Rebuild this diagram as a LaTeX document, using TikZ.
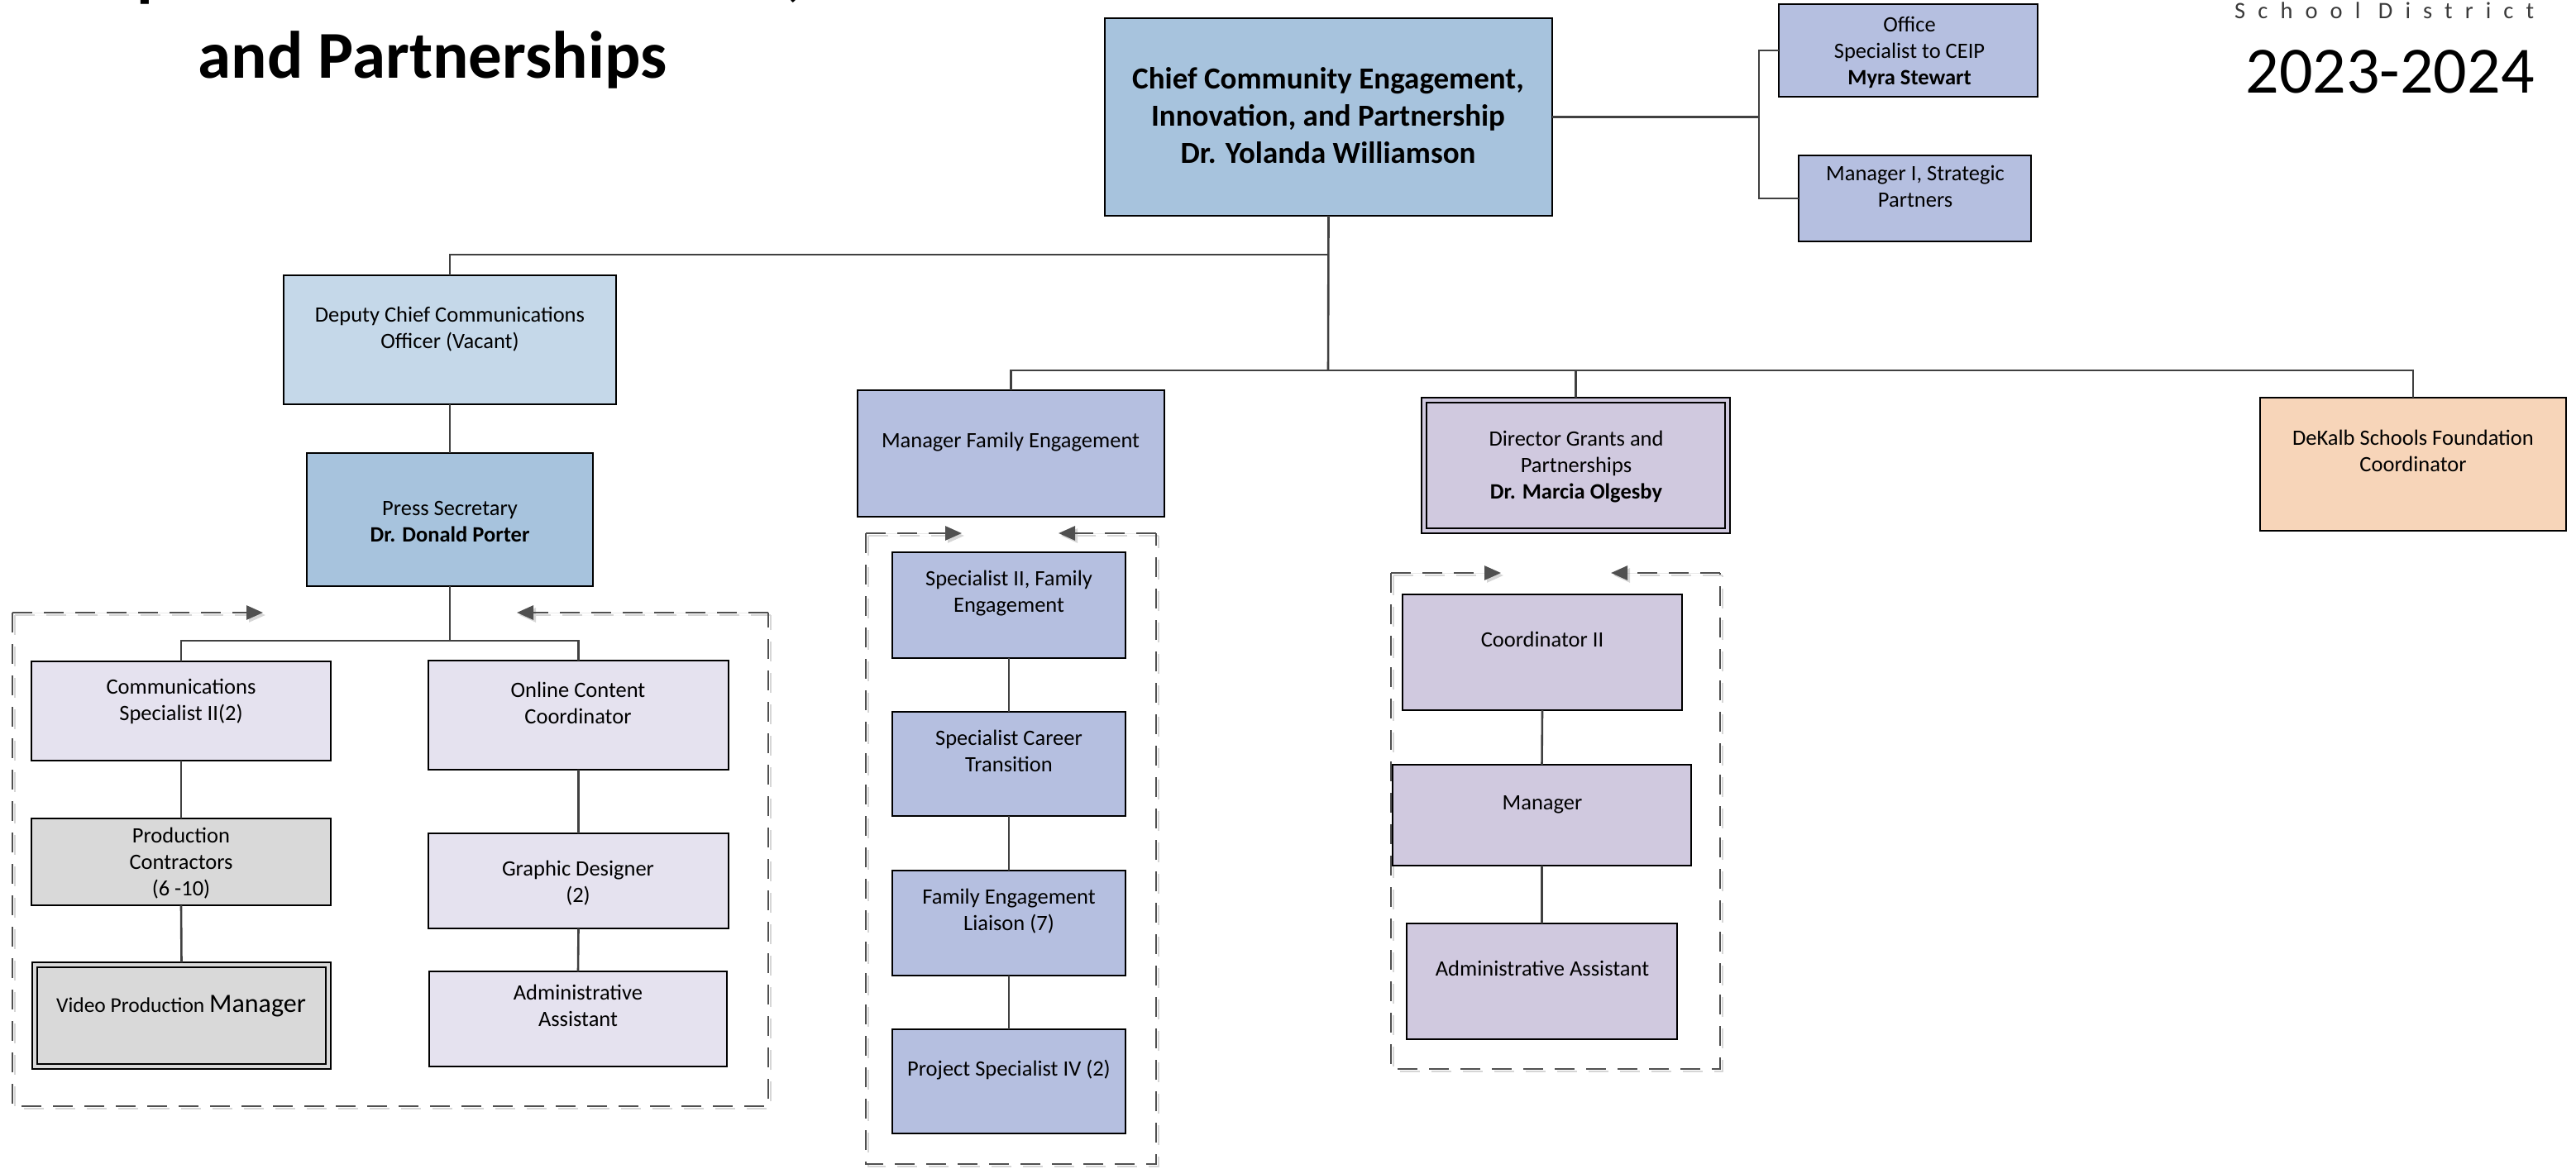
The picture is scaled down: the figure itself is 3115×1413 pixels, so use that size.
\documentclass[tikz,border=0pt]{standalone}
\usepackage{fontspec}
\setmainfont{Carlito}
\usetikzlibrary{arrows.meta,calc}

\definecolor{blueA}{HTML}{A7C3DD}
\definecolor{blueB}{HTML}{C5D8E9}
\definecolor{peri}{HTML}{B5BFE0}
\definecolor{lavD}{HTML}{D0C9DF}
\definecolor{lavL}{HTML}{E5E2EF}
\definecolor{grayF}{HTML}{D9D9D9}
\definecolor{peach}{HTML}{F7D5B9}
\definecolor{connc}{HTML}{404040}
\definecolor{grpc}{HTML}{505050}
\definecolor{grpshadow}{HTML}{D6D6D6}
\definecolor{sdgray}{HTML}{3A3A3A}

% org box: name, x1, y1, x2, y2, fill
\newcommand\orgbox[6]{%
  \node[box, fill=#6, minimum width={#4-#2}, minimum height={#5-#3}]
    (#1) at ({(#2+#4)/2},{(#3+#5)/2}) {};}
% inner frame for double-bordered boxes
\newcommand\innerframe[1]{%
  \draw[line width=1.8] ($(#1.north west)+(6,6)$) rectangle ($(#1.south east)+(-6,-6)$);}
% dashed group frame: x1, y1, x2, y2, right-pointing tip x, left-pointing tip x
\newcommand\dgroup[6]{%
  \foreach \s/\c in {3/grpshadow,0/grpc}{%
    \draw[grp, draw=\c, shift={(\s,\s)}] (#1,#2) -- (#1,#4) -- (#3,#4) -- (#3,#2);
    \draw[grp, draw=\c, fill=\c, shift={(\s,\s)}, -{Triangle[length=20pt,width=17pt]}] (#1,#2) -- (#5,#2);
    \draw[grp, draw=\c, fill=\c, shift={(\s,\s)}, -{Triangle[length=20pt,width=17pt]}] (#3,#2) -- (#6,#2);
  }}

\begin{document}
\begin{tikzpicture}[x=1pt,y=-1pt,
  box/.style={draw=black, line width=2.8, rectangle, inner sep=0pt, outer sep=0pt},
  conn/.style={draw=connc, line width=2.6},
  txt/.style={font=\fontsize{26.5}{32}\selectfont, align=center, inner sep=0pt, text=black},
  grp/.style={line width=2.8, dash pattern=on 24pt off 14pt}]

\useasboundingbox (0,0) rectangle (3115,1413);
\clip (0,0) rectangle (3115,1413);

% ---------- titles ----------
\node[font=\fontsize{81}{99}\selectfont\bfseries, anchor=base, inner sep=0pt] (title1) at (523,-7) {Department of Innovation,};
\node[font=\fontsize{81}{99}\selectfont\bfseries, anchor=base, inner sep=0pt] (title2) at (523,95) {and Partnerships};
\node[font=\fontsize{28.5}{34}\selectfont\addfontfeatures{LetterSpace=53}, text=sdgray, anchor=base west, inner sep=0pt] (district) at (2702,23) {School District};
\node[font=\fontsize{80}{96}\selectfont, anchor=base, inner sep=0pt] (year) at (2890,112) {2023-2024};

% ---------- dashed group frames ----------
\dgroup{15}{741}{929}{1338}{318}{625}
\dgroup{1047}{645}{1398}{1408}{1163}{1280}
\dgroup{1682}{693}{2080}{1293}{1815}{1948}

% ---------- boxes ----------
\orgbox{chief}{1336}{22}{1877}{261}{blueA}
\orgbox{office}{2151}{5}{2464}{117}{peri}
\orgbox{mgr1}{2175}{188}{2456}{292}{peri}

\orgbox{deputy}{343}{333}{745}{489}{blueB}
\orgbox{press}{371}{548}{717}{709}{blueA}
\orgbox{comm}{38}{800}{400}{920}{lavL}
\orgbox{online}{518}{799}{881}{931}{lavL}
\orgbox{prod}{38}{990}{400}{1095}{grayF}
\orgbox{graphic}{518}{1008}{881}{1123}{lavL}
\orgbox{video}{39}{1164}{400}{1293}{grayF}
\innerframe{video}
\orgbox{adminL}{519}{1175}{879}{1290}{lavL}

\orgbox{mgrfam}{1037}{472}{1408}{625}{peri}
\orgbox{spec2}{1079}{668}{1361}{796}{peri}
\orgbox{career}{1079}{861}{1361}{987}{peri}
\orgbox{liaison}{1079}{1053}{1361}{1180}{peri}
\orgbox{project}{1079}{1245}{1361}{1371}{peri}

\orgbox{director}{1719}{481}{2092}{645}{lavD}
\innerframe{director}
\orgbox{coord2}{1696}{719}{2034}{859}{lavD}
\orgbox{manager}{1684}{925}{2045}{1047}{lavD}
\orgbox{adminR}{1701}{1117}{2028}{1257}{lavD}

\orgbox{found}{2733}{481}{3103}{642}{peach}

% ---------- box texts ----------
\node[txt, font=\fontsize{37}{45}\selectfont\bfseries] (chief-t) at (1606,143)
  {\strut Chief Community Engagement,\\\strut Innovation, and Partnership\\\strut Dr. Yolanda Williamson};
\node[txt] (office-t) at (2309,64) {\strut Office\\\strut Specialist to CEIP\\\strut\textbf{Myra Stewart}};
\node[txt] (mgr1-t) at (2316,228) {\strut Manager I, Strategic\\\strut Partners};

\node[txt] (deputy-t) at (544,399) {\strut Deputy Chief Communications\\\strut Officer (Vacant)};
\node[txt] (press-t) at (544,633) {\strut Press Secretary\\\strut\textbf{Dr. Donald Porter}};
\node[txt] (comm-t) at (219,849) {\strut Communications\\\strut Specialist II(2)};
\node[txt] (online-t) at (699,853) {\strut Online Content\\\strut Coordinator};
\node[txt] (prod-t) at (219,1045) {\strut Production\\\strut Contractors\\\strut (6 -10)};
\node[txt] (graphic-t) at (699,1069) {\strut Graphic Designer\\\strut (2)};
\node[txt, font=\fontsize{25.5}{32}\selectfont] (video-t) at (219,1218) {\strut Video Production {\fontsize{32}{32}\selectfont Manager}};
\node[txt] (adminL-t) at (699,1219) {\strut Administrative\\\strut Assistant};

\node[txt] (mgrfam-t) at (1222,535) {\strut Manager Family Engagement};
\node[txt] (spec2-t) at (1220,718) {\strut Specialist II, Family\\\strut Engagement};
\node[txt] (career-t) at (1220,911) {\strut Specialist Career\\\strut Transition};
\node[txt] (liaison-t) at (1220,1103) {\strut Family Engagement\\\strut Liaison (7)};
\node[txt] (project-t) at (1220,1295) {\strut Project Specialist IV (2)};

\node[txt] (director-t) at (1906,565) {\strut Director Grants and\\\strut Partnerships\\\strut\textbf{Dr. Marcia Olgesby}};
\node[txt] (coord2-t) at (1865,776) {\strut Coordinator II};
\node[txt] (manager-t) at (1865,973) {\strut Manager};
\node[txt] (adminR-t) at (1865,1174) {\strut Administrative Assistant};

\node[txt] (found-t) at (2918,548) {\strut DeKalb Schools Foundation\\\strut Coordinator};

% ---------- connectors ----------
\coordinate (j-dep) at (1606,308);
\coordinate (j-bus) at (1606,448);
\coordinate (j-right) at (2127,141.5);
\coordinate (j-press) at (544,775);

\draw[conn] (chief.south) -- (j-bus);
\draw[conn] (j-dep) -| (deputy.north);
\draw[conn] (j-bus) -| (mgrfam.north);
\draw[conn] (j-bus) -| (director.north);
\draw[conn] (j-bus) -| (found.north);

\draw[conn] (chief.east) -- (j-right);
\draw[conn] (office.west) -| (j-right);
\draw[conn] (mgr1.west) -| (j-right);

\draw[conn] (deputy.south) -- (press.north);
\draw[conn] (press.south) -- (j-press);
\draw[conn] (j-press) -| (comm.north);
\draw[conn] (j-press) -| (online.north);
\draw[conn] (comm.south) -- (prod.north);
\draw[conn] (prod.south) -- (video.north);
\draw[conn] (online.south) -- (graphic.north);
\draw[conn] (graphic.south) -- (adminL.north);

\draw[conn] (spec2.south) -- (career.north);
\draw[conn] (career.south) -- (liaison.north);
\draw[conn] (liaison.south) -- (project.north);

\draw[conn] (coord2.south) -- (manager.north);
\draw[conn] (manager.south) -- (adminR.north);
\end{tikzpicture}
\end{document}
